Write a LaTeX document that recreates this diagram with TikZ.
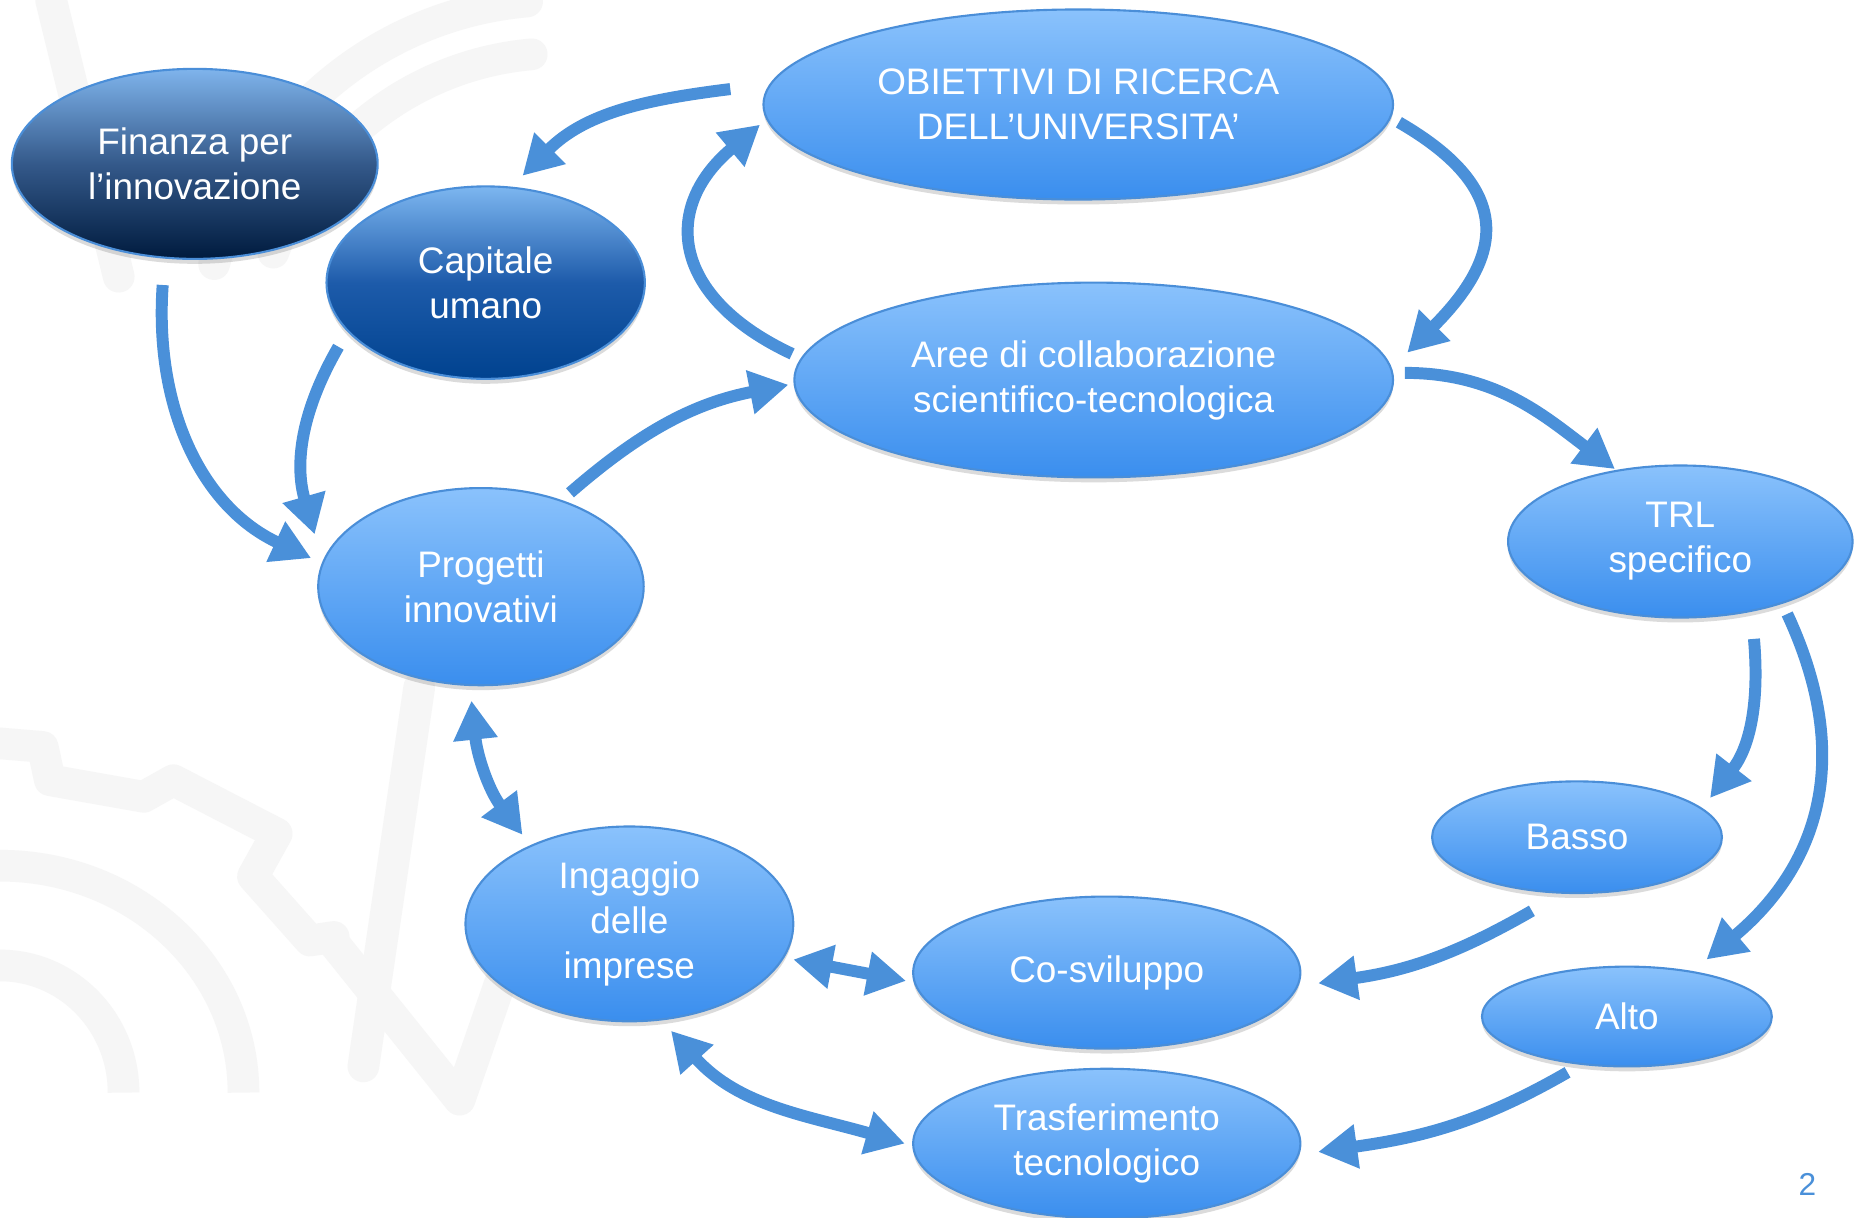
\documentclass[tikz,border=0pt]{standalone}
\usepackage{fontspec}
\setmainfont{Liberation Sans}
\usetikzlibrary{shapes.geometric,arrows.meta,calc,shadows}
\definecolor{arrowblue}{HTML}{4A90D9}
\definecolor{lbtop}{HTML}{8AC2FC}
\definecolor{lbbot}{HTML}{3A8EEE}
\definecolor{lbdraw}{HTML}{4A8ED8}
\definecolor{wm}{HTML}{F6F6F6}
\definecolor{fintop}{HTML}{7FB4EC}
\definecolor{finmid}{HTML}{34598A}
\definecolor{finbot}{HTML}{001B3E}
\definecolor{captop}{HTML}{7DB6F0}
\definecolor{capmid}{HTML}{1D5BAA}
\definecolor{capbot}{HTML}{00428F}
\begin{document}
\begin{tikzpicture}[x=0.011875cm,y=0.011875cm,
  oval/.style={ellipse, inner sep=0pt, draw=lbdraw, line width=0.6pt, text=white, align=center,
     font=\fontsize{10.5}{12.8}\selectfont,
     drop shadow={shadow xshift=0pt, shadow yshift=-1.4pt, opacity=0.14, fill=black}},
  light/.style={oval, top color=lbtop, bottom color=lbbot},
  arr/.style={draw=arrowblue, line width=3.4pt, -{Triangle[length=0.39cm,width=0.42cm]}},
  darr/.style={draw=arrowblue, line width=3.4pt, {Triangle[length=0.39cm,width=0.42cm]}-{Triangle[length=0.39cm,width=0.42cm]}},
  wmark/.style={draw=wm, line width=9pt, line cap=round, line join=round}
]
\useasboundingbox (0,-1025) rectangle (1568,0);
\fill[white] (0,-1025) rectangle (1568,0);

% faint watermark
\draw[wmark, line cap=butt] (0,-729) arc[start angle=90, end angle=0, x radius=2.434cm, y radius=2.268cm];
\draw[wmark, line cap=butt] (0,-813) arc[start angle=90, end angle=0, x radius=1.235cm, y radius=1.271cm];
\draw[wmark] (0,-626) -- (36,-629) -- (42,-657) -- (121,-671) -- (146,-657) -- (233,-702) -- (213,-738) -- (261,-792) -- (281,-789);
\draw[wmark] (353,-579) -- (306,-898);
\draw[wmark] (281,-794) -- (387,-926) -- (421,-828);
\draw[wmark] (470,-300) ++(165:3.56cm) arc[start angle=165, end angle=95, radius=3.56cm];
\draw[wmark] (470,-300) ++(160:3.03cm) arc[start angle=160, end angle=95, radius=3.03cm];
\draw[wmark] (43,0) -- (100,-233);

% nodes
\node[oval, top color=fintop, bottom color=finbot, middle color=finmid,
      minimum width=3.6575cm, minimum height=1.9cm] (fin) at (164,-138) {Finanza per\\l’innovazione};
\node[oval, top color=captop, bottom color=capbot, middle color=capmid,
      minimum width=3.1825cm, minimum height=1.924cm] (cap) at (409,-238) {Capitale\\umano};
\node[light, minimum width=6.294cm, minimum height=1.9cm] (obi) at (908,-88) {OBIETTIVI DI RICERCA\\DELL’UNIVERSITA’};
\node[light, minimum width=5.985cm, minimum height=1.9475cm] (aree) at (921,-320) {Aree di collaborazione\\scientifico-tecnologica};
\node[light, minimum width=3.444cm, minimum height=1.52cm] (trl) at (1415,-456) {TRL\\specifico};
\node[light, minimum width=3.254cm, minimum height=1.971cm] (prog) at (405,-494) {Progetti\\innovativi};
\node[light, minimum width=2.8975cm, minimum height=1.116cm] (basso) at (1328,-705) {Basso};
\node[light, minimum width=2.8975cm, minimum height=0.9975cm] (alto) at (1370,-856) {Alto};
\node[light, minimum width=3.2775cm, minimum height=1.9475cm] (ing) at (530,-778) {Ingaggio\\delle\\imprese};
\node[light, minimum width=3.871cm, minimum height=1.52cm] (cos) at (932,-819) {Co-sviluppo};
\node[light, minimum width=3.871cm, minimum height=1.496cm] (tra) at (932,-963) {Trasferimento\\tecnologico};
\node[text=arrowblue, font=\fontsize{9}{10}\selectfont] (pg) at (1522,-997) {2};

% connectors
\draw[arr] ($(obi)+(-293,13)$) to[out=187, in=45] ($(cap)+(31,90)$);
\draw[arr] ($(aree)+(-254,22)$) to[out=155, in=220, looseness=1.45] ($(obi)+(-268,-17)$);
\draw[arr] ($(obi)+(270,-15)$) to[out=-30, in=45, looseness=1.5] ($(aree)+(264,23)$);
\draw[arr] ($(aree)+(262,6)$) to[out=0, in=143] ($(trl)+(-55,61)$);
\draw[arr] ($(fin)+(-27,-102)$) to[out=266, in=155] ($(prog)+(-143,24)$);
\draw[arr] ($(cap)+(-124,-54)$) to[out=240, in=106] ($(prog)+(-140,44)$);
\draw[arr] ($(prog)+(75,79)$) to[out=41, in=191] ($(aree)+(-257,-4)$);
\draw[darr] ($(prog)+(-8,-96)$) to[out=-84, in=127] ($(ing)+(-90,75)$);
\draw[arr] ($(trl)+(62,-82)$) to[out=-85, in=52] ($(basso)+(112,33)$);
\draw[arr] ($(trl)+(90,-61)$) to[out=-65, in=40, looseness=1.1] ($(alto)+(67,48)$);
\draw[arr] ($(basso)+(-38,-62)$) to[out=210, in=8] ($(cos)+(178,-9)$);
\draw[arr] ($(alto)+(-50,-47)$) to[out=210, in=8] ($(tra)+(178,-7)$);
\draw[darr] ($(ing)+(138,-30)$) -- ($(cos)+(-169,-7)$);
\draw[darr] ($(ing)+(35,-90)$) to[out=-48, in=164] ($(tra)+(-170,0)$);
\end{tikzpicture}
\end{document}
